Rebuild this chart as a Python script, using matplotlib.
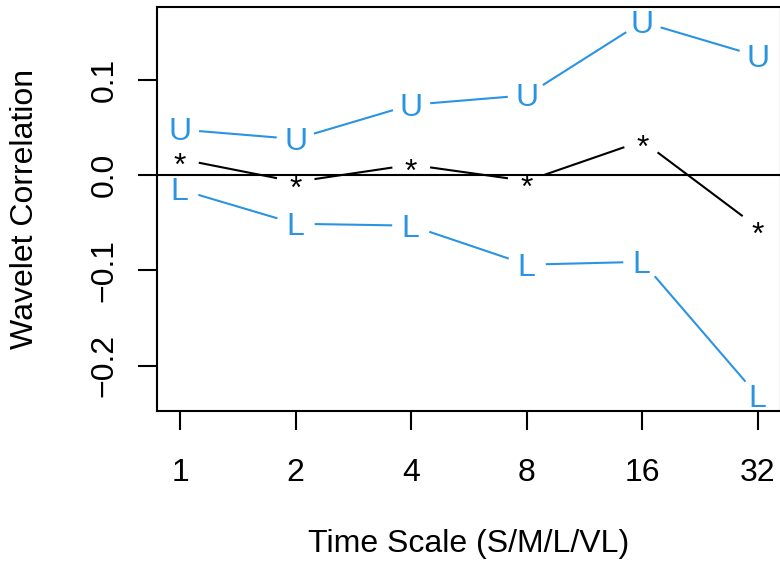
import numpy as np
import matplotlib
matplotlib.use("Agg")
import matplotlib.pyplot as plt
from matplotlib.textpath import TextPath
from matplotlib.font_manager import FontProperties

plt.rcParams['font.family'] = ['Liberation Sans', 'DejaVu Sans']

# wavelet correlation by time scale, with upper / lower confidence bounds
scales = [1, 2, 4, 8, 16, 32]
upper = [0.048, 0.038, 0.074, 0.084, 0.161, 0.125]
corr = [0.017, -0.007, 0.011, -0.006, 0.036, -0.055]
lower = [-0.015, -0.051, -0.053, -0.094, -0.091, -0.232]

blue = '#2B94E1'
fs = 23
gap = 13.7  # points left blank round each symbol (R type="b")

fig = plt.figure(figsize=(7.8, 5.69), dpi=100)
ax = fig.add_axes([157 / 780, 1 - 411 / 569, 624 / 780, 404 / 569])

ax.set_xscale('log', base=2)
ax.set_xlim(2 ** -0.2, 2 ** 5.2)
lo = min(lower + corr + upper)
hi = max(lower + corr + upper)
pad = 0.04 * (hi - lo)
ax.set_ylim(lo - pad, hi + pad)

ax.axhline(0, color='black', lw=1.5, zorder=1)

fp = FontProperties(family='Liberation Sans', size=fs)


def symbol_series(xs, ys, ch, color):
    # glyph centred on each point, joined by lines that stop short of it
    ext = TextPath((0, 0), ch, size=fs, prop=fp).get_extents()
    dy = -(ext.y0 + ext.y1) / 2
    dx = -(ext.x0 + ext.x1) / 2
    for x, y in zip(xs, ys):
        ax.annotate(ch, (x, y), xytext=(dx, dy), textcoords='offset points',
                    ha='left', va='baseline', fontsize=fs, color=color)
    pts = ax.transData.transform(np.column_stack([xs, ys]))
    g = gap * fig.dpi / 72
    inv = ax.transData.inverted()
    for p0, p1 in zip(pts[:-1], pts[1:]):
        d = p1 - p0
        n = np.hypot(*d)
        if n <= 2 * g:
            continue
        a = p0 + d / n * g
        b = p1 - d / n * g
        seg = inv.transform(np.array([a, b]))
        ax.plot(seg[:, 0], seg[:, 1], color=color, lw=1.5,
                solid_capstyle='butt')


symbol_series(scales, upper, 'U', blue)
symbol_series(scales, corr, '*', 'black')
symbol_series(scales, lower, 'L', blue)

ax.set_xticks(scales)
ax.set_xticklabels([str(s) for s in scales])
ax.xaxis.set_minor_locator(matplotlib.ticker.NullLocator())
yt = [-0.2, -0.1, 0.0, 0.1]
ax.set_yticks(yt)
ax.set_yticklabels([('%.1f' % v).replace('-', '\u2212') for v in yt],
                   rotation=90, va='center')

ax.tick_params(axis='both', direction='out', length=13.7, width=1.5,
               labelsize=fs, color='black')
ax.tick_params(axis='x', pad=20)
ax.tick_params(axis='y', pad=13)
for s in ax.spines.values():
    s.set_linewidth(1.5)

ax.set_xlabel('Time Scale (S/M/L/VL)', fontsize=fs, labelpad=30)
ax.set_ylabel('Wavelet Correlation', fontsize=fs, labelpad=36)

fig.savefig('out.png', dpi=100)
